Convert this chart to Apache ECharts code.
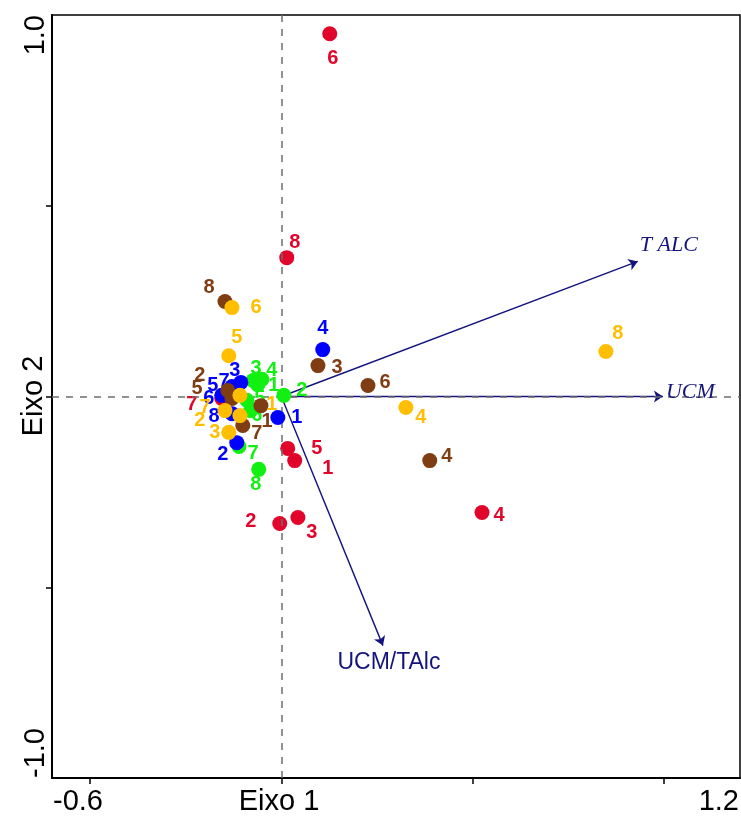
<!DOCTYPE html>
<html><head><meta charset="utf-8">
<script src="https://cdn.jsdelivr.net/npm/echarts@6/dist/echarts.min.js"></script>
<style>html,body{margin:0;padding:0;background:#fff}#c{width:741px;height:817px}</style>
</head><body><div id="c"></div>
<script>
// ---- data ----
const sampleIds = ['1','2','3','4','5','6','7','8'];

const redX   = [0.042, -0.005, 0.052, 0.630, 0.020, 0.152, -0.187, 0.017];
const redY   = [-0.168, -0.333, -0.317, -0.304, -0.136, 0.951, -0.005, 0.364];

const greenX = [-0.074, 0.008, -0.089, -0.061, -0.108, -0.096, -0.133, -0.071];
const greenY = [0.031, 0.003, 0.042, 0.045, -0.010, -0.037, -0.131, -0.191];

const blueX  = [-0.011, -0.140, -0.127, 0.130, -0.168, -0.187, -0.155, -0.155];
const blueY  = [-0.055, -0.121, 0.037, 0.123, 0.010, 0.003, 0.026, -0.045];

const brownX = [-0.064, -0.168, 0.115, 0.466, -0.155, 0.272, -0.121, -0.177];
const brownY = [-0.024, 0.016, 0.081, -0.168, -0.005, 0.029, -0.076, 0.249];

const orangeX = [-0.130, -0.130, -0.165, 0.391, -0.165, -0.155, -0.177, 1.019];
const orangeY = [0.003, -0.050, -0.094, -0.029, 0.107, 0.233, -0.037, 0.118];

const envNames = ['T ALC', 'UCM', 'UCM/TAlc'];
const envX = [1.119, 1.198, 0.319];
const envY = [0.354, 0.000, -0.653];

const xTicks = [-0.6, 0, 0.6, 1.2];
const yTicks = [-0.5, 0, 0.5];
const xEndLabels = ['-0.6', '1.2'];
const yEndLabels = ['-1.0', '1.0'];

// ---- layout (label offsets in px, not data) ----
const redOff    = [[33,8],[-29,-2],[14,15],[17,3],[29,0],[3,25],[-30,6],[8,-15]];
const greenOff  = [[16,1],[18,-5],[3,-12],[10,-9],[13,-2],[6,5],[14,7],[-3,15]];
const blueOff   = [[19,0],[-14,12],[-6,-12],[0,-21],[-15,-7],[-13,3],[-8,-5],[-18,3]];
const brownOff  = [[6,16],[-28,-15],[19,2],[17,-4],[-35,-10],[17,-3],[14,8],[-16,-14]];
const orangeOff = [[32,9],[-40,5],[-14,0],[15,10],[8,-18],[24,0],[-20,-3],[12,-18]];

const FONT = "'Liberation Sans', Arial, sans-serif";
const NAVY = '#14147e';

function groupSeries(name, xs, ys, offs, color, z) {
  return {
    name, type: 'scatter', z,
    symbol: 'circle', symbolSize: 15,
    itemStyle: { color: color, opacity: 1 },
    data: xs.map((x, i) => ({
      value: [x, ys[i]],
      name: sampleIds[i],
      label: { offset: offs[i] }
    })),
    label: {
      show: true, position: 'inside', formatter: p => p.name,
      color: color, fontFamily: FONT, fontWeight: 'bold', fontSize: 20
    },
    emphasis: { disabled: true }
  };
}

const envLabelCfg = [
  { position: [2, -16], align: 'left', verticalAlign: 'middle', fontFamily: "'Liberation Serif', 'Times New Roman', serif", fontStyle: 'italic', fontSize: 22 },
  { position: [3, -4], align: 'left', verticalAlign: 'middle', fontFamily: "'Liberation Serif', 'Times New Roman', serif", fontStyle: 'italic', fontSize: 22 },
  { position: [6, 17], align: 'center', verticalAlign: 'middle', fontFamily: FONT, fontStyle: 'normal', fontSize: 23 }
];

const chart = echarts.init(document.getElementById('c'), null, { renderer: 'canvas' });

const option = {
  animation: false,
  backgroundColor: '#fff',
  grid: { left: 52, right: 1, top: 15, bottom: 39, show: true, borderColor: '#000', borderWidth: 1.5, backgroundColor: 'transparent' },
  xAxis: {
    type: 'value', min: -0.72, max: 1.44,
    axisLine: { show: true, onZero: false, lineStyle: { color: '#000', width: 2 } },
    axisTick: { show: true, inside: false, length: 6, customValues: xTicks, lineStyle: { color: '#000', width: 1.5 } },
    axisLabel: { show: false },
    splitLine: { show: false }
  },
  yAxis: {
    type: 'value', min: -1, max: 1,
    axisLine: { show: true, onZero: false, lineStyle: { color: '#000', width: 2 } },
    axisTick: { show: true, inside: false, length: 6, customValues: yTicks, lineStyle: { color: '#000', width: 1.5 } },
    axisLabel: { show: false },
    splitLine: { show: false }
  },
  graphic: [
    { type: 'text', x: 53, y: 802, style: { text: xEndLabels[0], align: 'left', verticalAlign: 'middle', fontSize: 29, fontFamily: FONT, fill: '#000' } },
    { type: 'text', x: 739, y: 802, style: { text: xEndLabels[1], align: 'right', verticalAlign: 'middle', fontSize: 29, fontFamily: FONT, fill: '#000' } },
    { type: 'text', x: 279, y: 802, style: { text: 'Eixo 1', align: 'center', verticalAlign: 'middle', fontSize: 29, fontFamily: FONT, fill: '#000' } },
    { type: 'text', x: 36, y: 778, rotation: Math.PI / 2, style: { text: yEndLabels[0], align: 'left', verticalAlign: 'middle', fontSize: 29, fontFamily: FONT, fill: '#000' } },
    { type: 'text', x: 36, y: 15, rotation: Math.PI / 2, style: { text: yEndLabels[1], align: 'right', verticalAlign: 'middle', fontSize: 29, fontFamily: FONT, fill: '#000' } },
    { type: 'text', x: 34, y: 396, rotation: Math.PI / 2, style: { text: 'Eixo 2', align: 'center', verticalAlign: 'middle', fontSize: 29, fontFamily: FONT, fill: '#000' } }
  ],
  series: [
    {
      name: 'ref', type: 'scatter', data: [], z: 1, silent: true,
      markLine: {
        silent: true, symbol: 'none', animation: false,
        label: { show: false },
        lineStyle: { color: '#6e6e6e', width: 1.5, type: [7, 7] },
        data: [{ xAxis: 0 }, { yAxis: 0 }]
      }
    },
    {
      name: 'env', type: 'lines', coordinateSystem: 'cartesian2d', z: 3, silent: true,
      symbol: ['none', 'arrow'], symbolSize: 9,
      lineStyle: { color: NAVY, width: 1.4, opacity: 1, curveness: 0 },
      data: envX.map((x, i) => ({ coords: [[0, 0], [x, envY[i]]] }))
    },
    groupSeries('vermelho', redX, redY, redOff, '#e1052b', 4),
    groupSeries('verde', greenX, greenY, greenOff, '#11f011', 5),
    groupSeries('azul', blueX, blueY, blueOff, '#0000ff', 6),
    groupSeries('marrom', brownX, brownY, brownOff, '#7e3d13', 7),
    groupSeries('laranja', orangeX, orangeY, orangeOff, '#ffbf00', 8),
    {
      name: 'envLabels', type: 'scatter', z: 9, silent: true, symbolSize: 0,
      itemStyle: { opacity: 1, color: NAVY },
      data: envX.map((x, i) => ({
        value: [x, envY[i]], name: envNames[i],
        label: Object.assign({ show: true, formatter: envNames[i], color: NAVY, opacity: 1 }, envLabelCfg[i])
      }))
    }
  ]
};
chart.setOption(option);
</script>
</body></html>
